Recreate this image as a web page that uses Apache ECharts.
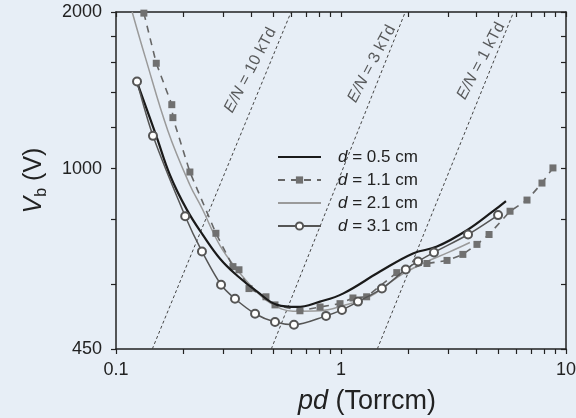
<!DOCTYPE html>
<html><head><meta charset="utf-8">
<script src="https://cdn.jsdelivr.net/npm/echarts@6/dist/echarts.min.js"></script>
<style>html,body{margin:0;padding:0;background:#e7eef6}#c{width:576px;height:418px}</style>
</head><body><div id="c"></div>
<script>
// d = 0.5 cm (solid black fitted curve)
const pd05 = [0.125, 0.151, 0.174, 0.207, 0.244, 0.290, 0.345, 0.424, 0.520, 0.637, 0.807, 1.02, 1.49, 2.09, 2.67, 3.63, 4.74, 5.41];
const vb05 = [1451, 1156, 970, 832, 744, 671, 623, 580, 547, 542, 555, 575, 634, 687, 708, 761, 828, 866];
// d = 1.1 cm (squares, dashed)
const pd11 = [0.133, 0.151, 0.177, 0.179, 0.213, 0.278, 0.331, 0.352, 0.390, 0.464, 0.509, 0.657, 0.807, 0.99, 1.13, 1.30, 1.77, 2.41, 2.96, 3.48, 4.02, 4.55, 5.64, 6.71, 7.82, 8.75];
const vb11 = [1990, 1594, 1327, 1253, 985, 751, 648, 639, 588, 567, 547, 533, 542, 550, 564, 567, 631, 657, 666, 684, 715, 747, 828, 870, 938, 1003];
// d = 2.1 cm (light grey curve)
const pd21 = [0.118, 0.135, 0.170, 0.213, 0.241, 0.290, 0.345, 0.406, 0.484, 0.612, 0.807, 1.02, 1.35, 1.60, 1.89, 2.36, 3.0, 3.74];
const vb21 = [2000, 1636, 1183, 930, 839, 711, 640, 590, 552, 532, 533, 545, 568, 598, 628, 660, 690, 721];
// d = 3.1 cm (open circles)
const pd31 = [0.124, 0.146, 0.203, 0.241, 0.293, 0.338, 0.415, 0.509, 0.618, 0.858, 1.01, 1.19, 1.52, 1.94, 2.20, 2.59, 3.67, 4.99];
const vb31 = [1470, 1156, 810, 693, 598, 562, 526, 507, 501, 521, 535, 555, 588, 640, 663, 690, 747, 814];

const seriesNames = ['d = 0.5 cm', 'd = 1.1 cm', 'd = 2.1 cm', 'd = 3.1 cm'];

// E/N reference lines (kTd) endpoints
const enNames = ['10', '3', '1'];
const enStart = [[0.145, 450], [0.49, 450], [1.45, 450]];
const enEnd = [[0.60, 2000], [1.93, 2000], [5.85, 2000]];
const enLabelAt = [[0.395, 1545], [1.37, 1590], [4.19, 1610]];

const xTicks = [0.1,0.2,0.3,0.4,0.5,0.6,0.7,0.8,0.9,1,2,3,4,5,6,7,8,9,10];
const xLabels = [0.1, 1, 10];
const yTicks = [450, 600, 800, 1000, 1200, 1400, 1600, 1800, 2000];
const yLabels = [450, 1000, 2000];

const FONT = '"Liberation Sans", Arial, sans-serif';
const INK = '#222';
const zip = (a, b) => a.map((v, i) => [v, b[i]]);
const fmt = v => String(+(+v).toPrecision(3));
const lg = Math.log10;

const axisLineStyle = { color: INK, width: 1.5 };
const tickStyle = { color: INK, width: 1.2 };

// helper axes (in log10 units) used only to draw tick marks at the log positions
function tickAxis(pos, lo, hi, ticks, inside) {
  return { type: 'value', min: lg(lo), max: lg(hi), position: pos,
    axisLine: { show: false, onZero: false },
    axisTick: { show: true, customValues: ticks.map(lg), length: 5, inside: inside, lineStyle: tickStyle },
    axisLabel: { show: false }, splitLine: { show: false } };
}

const option = {
  backgroundColor: '#e7eef6',
  animation: false,
  textStyle: { fontFamily: FONT },
  grid: { left: 116, right: 10, top: 12, bottom: 69, containLabel: false, outerBoundsMode: 'none' },
  legend: {
    orient: 'vertical', left: 272, top: 142,
    itemWidth: 43, itemHeight: 9, itemGap: 3,
    selectedMode: false,
    textStyle: { fontSize: 17, color: INK, fontFamily: FONT, lineHeight: 20,
      rich: { i: { fontStyle: 'italic', fontSize: 17, lineHeight: 20, color: INK, fontFamily: FONT, padding: [0, 0, 0, 12] },
              n: { fontSize: 17, lineHeight: 20, color: INK, fontFamily: FONT } } },
    formatter: n => '{i|d}{n|' + n.slice(1) + '}',
    data: [
      { name: seriesNames[0], itemStyle: { opacity: 0 } },
      { name: seriesNames[1] },
      { name: seriesNames[2], itemStyle: { opacity: 0 } },
      { name: seriesNames[3] }
    ]
  },
  xAxis: [
    { type: 'log', logBase: 10, min: 0.1, max: 10, position: 'bottom',
      axisLine: { lineStyle: axisLineStyle, onZero: false },
      axisTick: { show: false },
      axisLabel: { customValues: xLabels, formatter: fmt, fontSize: 18, color: INK, margin: 12, fontFamily: FONT },
      splitLine: { show: false },
      name: '{i|pd} (Torrcm)', nameLocation: 'middle', nameGap: 39,
      nameTextStyle: { fontSize: 27, color: INK, fontFamily: FONT, padding: [0, 0, 0, 52],
        rich: { i: { fontStyle: 'italic', fontSize: 27, color: INK, fontFamily: FONT } } } },
    { type: 'log', logBase: 10, min: 0.1, max: 10, position: 'top',
      axisLine: { lineStyle: axisLineStyle, onZero: false },
      axisTick: { show: false }, axisLabel: { show: false }, splitLine: { show: false } },
    tickAxis('bottom', 0.1, 10, xTicks, false),
    tickAxis('top', 0.1, 10, xTicks, true)
  ],
  yAxis: [
    { type: 'log', logBase: 10, min: 450, max: 2000, position: 'left',
      axisLine: { lineStyle: axisLineStyle, onZero: false },
      axisTick: { show: false },
      axisLabel: { customValues: yLabels, formatter: fmt, fontSize: 18, color: INK, margin: 14, fontFamily: FONT },
      splitLine: { show: false },
      name: '{v|V}{s|b}{n| (V)}', nameLocation: 'middle', nameGap: 66, nameRotate: 90,
      nameTextStyle: { color: INK, fontFamily: FONT,
        rich: { v: { fontStyle: 'italic', fontSize: 25, color: INK, fontFamily: FONT },
                s: { fontSize: 16, color: INK, fontFamily: FONT, padding: [16, 0, 0, 0] },
                n: { fontSize: 25, color: INK, fontFamily: FONT } } } },
    { type: 'log', logBase: 10, min: 450, max: 2000, position: 'right',
      axisLine: { lineStyle: axisLineStyle, onZero: false },
      axisTick: { show: false }, axisLabel: { show: false }, splitLine: { show: false } },
    tickAxis('left', 450, 2000, yTicks, false),
    tickAxis('right', 450, 2000, yTicks, true)
  ],
  series: [
    ...enNames.map((n, i) => ({
      type: 'line', name: 'E/N ' + n, data: [enStart[i], enEnd[i]],
      symbol: 'none', silent: true, z: 1,
      lineStyle: { color: '#444', width: 1, type: [3, 2.5] }
    })),
    { type: 'scatter', name: 'enLabels', silent: true, symbolSize: 0, z: 2,
      data: enLabelAt.map((p, i) => ({ value: p, label: { formatter: '{i|E/N}{n| = ' + enNames[i] + ' kTd}' } })),
      label: { show: true, position: 'inside', rotate: 62, align: 'center', verticalAlign: 'middle',
        rich: { i: { fontStyle: 'italic', fontSize: 16, color: '#333', fontFamily: FONT },
                n: { fontSize: 16, color: '#333', fontFamily: FONT } } } },
    { type: 'line', name: seriesNames[2], data: zip(pd21, vb21), symbol: 'none', smooth: 0.4, z: 3,
      color: '#9a9a9a', lineStyle: { color: '#9a9a9a', width: 1.5 } },
    { type: 'line', name: seriesNames[1], data: zip(pd11, vb11), symbol: 'rect', symbolSize: 7, showSymbol: true, z: 4,
      color: '#707070', itemStyle: { color: '#707070' },
      lineStyle: { color: '#666', width: 1.6, type: [7, 6] } },
    { type: 'line', name: seriesNames[0], data: zip(pd05, vb05), symbol: 'none', smooth: 0.4, z: 5,
      color: '#1a1a1a', lineStyle: { color: '#1a1a1a', width: 2.2 } },
    { type: 'line', name: seriesNames[3], data: zip(pd31, vb31), symbol: 'emptyCircle', symbolSize: 8, showSymbol: true, smooth: 0.3, z: 6,
      color: '#555', itemStyle: { color: '#555', borderWidth: 1 },
      lineStyle: { color: '#555', width: 1.5 } }
  ]
};

const chart = echarts.init(document.getElementById('c'), null, { renderer: 'canvas' });
chart.setOption(option);
</script></body></html>
